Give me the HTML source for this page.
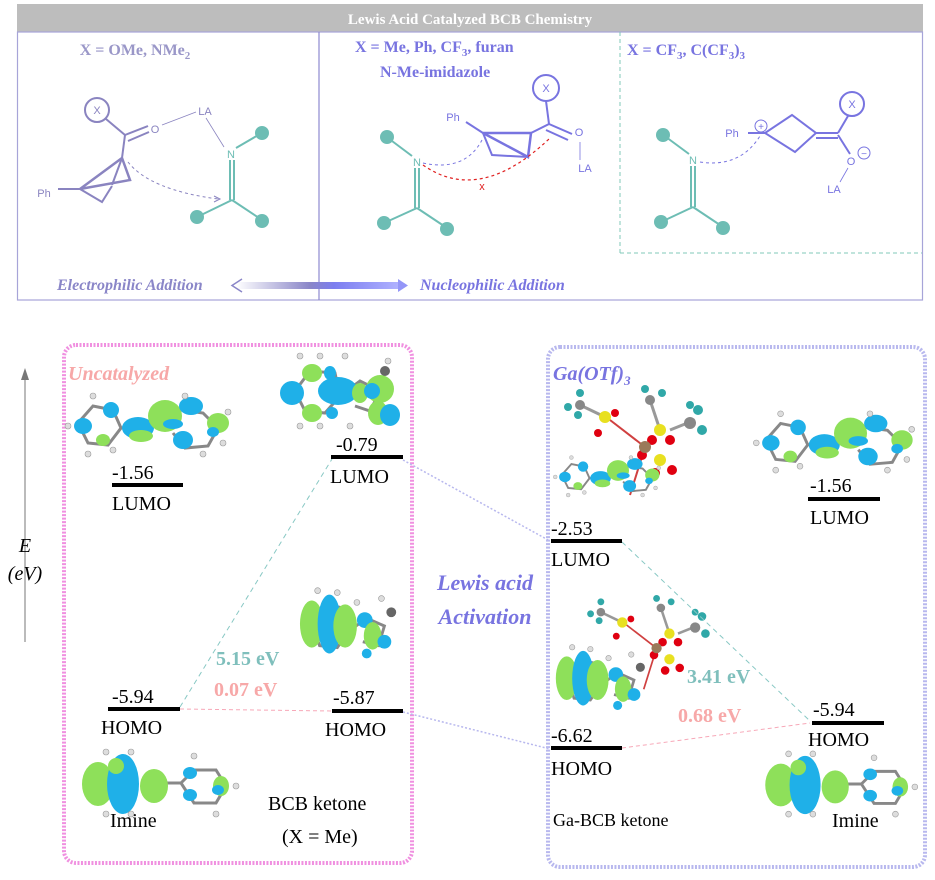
<!DOCTYPE html>
<html><head><meta charset="utf-8"><style>
html,body{margin:0;padding:0;background:#fff;}
svg{display:block;}
.s{font-family:"Liberation Serif",serif;}
.a{font-family:"Liberation Sans",sans-serif;}
</style></head><body>
<svg width="935" height="880" viewBox="0 0 935 880" xmlns="http://www.w3.org/2000/svg">
<defs>
<linearGradient id="ag" x1="0" x2="1">
<stop offset="0" stop-color="#fff"/><stop offset="0.45" stop-color="#8a86c8"/><stop offset="0.6" stop-color="#7c7ef0"/><stop offset="1" stop-color="#b0b2ff"/>
</linearGradient>
<symbol id="lumoI" viewBox="0 0 170 70">
<g stroke="#888" stroke-width="3" fill="none"><polyline points="15,35 30,18 50,22 58,40 45,57 25,55 15,35"/><polyline points="58,40 80,38 100,30 118,22 140,25 155,40 145,58 122,60 110,45"/></g>
<ellipse cx="20" cy="38" rx="9" ry="8" fill="#1fb0e8"/><ellipse cx="48" cy="22" rx="8" ry="8" fill="#1fb0e8"/><ellipse cx="40" cy="52" rx="7" ry="6" fill="#8ee05a"/>
<ellipse cx="75" cy="40" rx="16" ry="11" fill="#1fb0e8"/><ellipse cx="78" cy="48" rx="12" ry="6" fill="#8ee05a"/>
<ellipse cx="102" cy="28" rx="17" ry="16" fill="#8ee05a"/><ellipse cx="110" cy="36" rx="10" ry="5" fill="#1fb0e8"/>
<ellipse cx="128" cy="18" rx="12" ry="9" fill="#1fb0e8"/><ellipse cx="155" cy="35" rx="11" ry="10" fill="#8ee05a"/><ellipse cx="150" cy="44" rx="6" ry="5" fill="#1fb0e8"/><ellipse cx="120" cy="52" rx="10" ry="9" fill="#1fb0e8"/>
<g fill="#ddd" stroke="#999" stroke-width="0.6"><circle cx="5" cy="38" r="3"/><circle cx="30" cy="8" r="3"/><circle cx="25" cy="66" r="3"/><circle cx="50" cy="62" r="3"/><circle cx="122" cy="8" r="3"/><circle cx="160" cy="55" r="3"/><circle cx="140" cy="66" r="3"/><circle cx="165" cy="24" r="3"/></g>
</symbol>
<symbol id="homoI" viewBox="0 0 170 70">
<g stroke="#888" stroke-width="3" fill="none"><polyline points="105,35 118,22 140,22 150,38 140,55 118,55 105,35"/><line x1="70" y1="35" x2="105" y2="35"/></g>
<ellipse cx="22" cy="36" rx="16" ry="22" fill="#8ee05a"/><ellipse cx="47" cy="36" rx="16" ry="30" fill="#1fb0e8"/><ellipse cx="40" cy="18" rx="8" ry="8" fill="#8ee05a"/>
<ellipse cx="78" cy="38" rx="14" ry="17" fill="#8ee05a"/><ellipse cx="114" cy="25" rx="7" ry="6" fill="#1fb0e8"/><ellipse cx="114" cy="47" rx="7" ry="6" fill="#1fb0e8"/><ellipse cx="145" cy="38" rx="8" ry="10" fill="#8ee05a"/><ellipse cx="142" cy="42" rx="6" ry="5" fill="#1fb0e8"/>
<g fill="#ddd" stroke="#999" stroke-width="0.6"><circle cx="30" cy="4" r="3"/><circle cx="55" cy="4" r="3"/><circle cx="30" cy="66" r="3"/><circle cx="55" cy="66" r="3"/><circle cx="160" cy="38" r="3"/><circle cx="118" cy="8" r="3"/><circle cx="140" cy="66" r="3"/></g>
</symbol>
<symbol id="bcbH" viewBox="0 0 110 80">
<g stroke="#888" stroke-width="3" fill="none"><polyline points="15,40 28,18 48,22 52,45 40,62 22,60 15,40"/><polyline points="52,45 70,32 88,40 82,60 66,56"/></g>
<ellipse cx="14" cy="38" rx="12" ry="24" fill="#8ee05a"/><ellipse cx="32" cy="38" rx="12" ry="30" fill="#1fb0e8"/><ellipse cx="48" cy="40" rx="12" ry="22" fill="#8ee05a"/>
<ellipse cx="68" cy="34" rx="8" ry="8" fill="#1fb0e8"/><ellipse cx="76" cy="50" rx="9" ry="14" fill="#8ee05a"/><ellipse cx="88" cy="56" rx="7" ry="7" fill="#1fb0e8"/><ellipse cx="70" cy="68" rx="5" ry="5" fill="#1fb0e8"/>
<g fill="#ddd" stroke="#999" stroke-width="0.6"><circle cx="20" cy="4" r="3"/><circle cx="40" cy="6" r="3"/><circle cx="60" cy="16" r="3"/><circle cx="85" cy="12" r="3"/></g>
<circle cx="95" cy="26" r="5" fill="#666"/>
</symbol>
<symbol id="bcbL" viewBox="0 0 130 80">
<g stroke="#888" stroke-width="3" fill="none"><polyline points="15,40 30,20 55,22 60,45 45,62 25,60 15,40"/><polyline points="60,45 80,30 100,40 90,60 75,55"/></g>
<ellipse cx="12" cy="42" rx="12" ry="12" fill="#1fb0e8"/><ellipse cx="32" cy="22" rx="10" ry="9" fill="#8ee05a"/><ellipse cx="32" cy="62" rx="10" ry="9" fill="#8ee05a"/>
<ellipse cx="58" cy="40" rx="20" ry="14" fill="#1fb0e8"/><ellipse cx="50" cy="22" rx="6" ry="7" fill="#1fb0e8"/><ellipse cx="52" cy="62" rx="6" ry="6" fill="#1fb0e8"/>
<ellipse cx="80" cy="42" rx="8" ry="10" fill="#8ee05a"/><ellipse cx="100" cy="38" rx="14" ry="14" fill="#8ee05a"/><ellipse cx="92" cy="40" rx="8" ry="8" fill="#1fb0e8"/>
<ellipse cx="98" cy="62" rx="10" ry="12" fill="#8ee05a"/><ellipse cx="110" cy="64" rx="10" ry="11" fill="#1fb0e8"/>
<g fill="#ddd" stroke="#999" stroke-width="0.6"><circle cx="20" cy="5" r="3"/><circle cx="40" cy="5" r="3"/><circle cx="65" cy="5" r="3"/><circle cx="108" cy="10" r="3"/><circle cx="20" cy="75" r="3"/><circle cx="40" cy="75" r="3"/><circle cx="70" cy="75" r="3"/></g>
<circle cx="105" cy="20" r="5" fill="#666"/>
</symbol>
<symbol id="tf" viewBox="0 0 150 140">
<g stroke="#d04040" stroke-width="2"><line x1="50" y1="35" x2="85" y2="62"/><line x1="85" y1="62" x2="70" y2="110"/></g>
<g stroke="#999" stroke-width="3"><line x1="20" y1="20" x2="45" y2="32"/><line x1="110" y1="45" x2="135" y2="35"/><line x1="90" y1="15" x2="100" y2="45"/></g>
<g fill="#e8e020"><circle cx="45" cy="32" r="6"/><circle cx="100" cy="45" r="6"/><circle cx="100" cy="75" r="6"/></g>
<g fill="#e00010"><circle cx="55" cy="28" r="4"/><circle cx="38" cy="48" r="4"/><circle cx="92" cy="55" r="5"/><circle cx="110" cy="55" r="5"/><circle cx="95" cy="88" r="5"/><circle cx="112" cy="85" r="5"/><circle cx="82" cy="70" r="5"/></g>
<circle cx="85" cy="62" r="6" fill="#9a7a5a"/>
<g fill="#30a8a8"><circle cx="20" cy="8" r="4"/><circle cx="8" cy="22" r="4"/><circle cx="18" cy="30" r="4"/><circle cx="85" cy="4" r="4"/><circle cx="102" cy="8" r="4"/><circle cx="138" cy="25" r="5"/><circle cx="142" cy="45" r="5"/><circle cx="130" cy="20" r="4"/></g>
<circle cx="20" cy="20" r="5" fill="#888"/><circle cx="90" cy="15" r="5" fill="#888"/><circle cx="130" cy="38" r="6" fill="#888"/>
</symbol>
</defs>

<!-- Top panel -->
<rect x="17" y="4" width="906" height="28" fill="#bdbdbd"/>
<text x="470" y="24" class="s" font-size="15" font-weight="bold" fill="#fff" text-anchor="middle">Lewis Acid Catalyzed BCB Chemistry</text>
<rect x="17.5" y="32" width="905" height="268" fill="none" stroke="#a7a4d8" stroke-width="1.2"/>
<line x1="319" y1="32" x2="319" y2="300" stroke="#8e8ad0" stroke-width="1.2"/>
<line x1="620" y1="32" x2="620" y2="253" stroke="#80c8b8" stroke-width="1" stroke-dasharray="4,3"/>
<line x1="620" y1="253" x2="922" y2="253" stroke="#80c8b8" stroke-width="1" stroke-dasharray="4,3"/>

<text x="135" y="55" class="s" font-size="16" font-weight="bold" fill="#9a97c8" text-anchor="middle">X = OMe, NMe<tspan font-size="11" dy="4">2</tspan></text>
<text x="355" y="52" class="s" font-size="16" font-weight="bold" fill="#7874e0">X = Me, Ph, CF<tspan font-size="11" dy="4">3</tspan><tspan dy="-4">, furan</tspan></text>
<text x="380" y="77" class="s" font-size="16" font-weight="bold" fill="#7874e0">N-Me-imidazole</text>
<text x="627" y="55" class="s" font-size="16" font-weight="bold" fill="#7874e0">X = CF<tspan font-size="11" dy="4">3</tspan><tspan dy="-4">, C(CF</tspan><tspan font-size="11" dy="4">3</tspan><tspan dy="-4">)</tspan><tspan font-size="11" dy="4">3</tspan></text>

<!-- left scheme -->
<g stroke="#8a84c0" stroke-width="2" fill="none">
<circle cx="97" cy="110" r="12"/>
<line x1="106" y1="119" x2="125" y2="135"/>
<line x1="125" y1="135" x2="122" y2="158"/>
<line x1="125" y1="135" x2="148" y2="126"/><line x1="128" y1="141" x2="149" y2="132"/>
<polygon points="122,158 80,189 130,180" stroke-width="2.5"/>
<line x1="122" y1="158" x2="112" y2="185"/>
<polyline points="80,189 102,202 112,186"/>
<line x1="58" y1="189" x2="80" y2="189"/>
</g>
<text x="97" y="114" class="a" font-size="11" fill="#8a84c0" text-anchor="middle">X</text>
<text x="44" y="197" class="a" font-size="11" fill="#8a84c0" text-anchor="middle">Ph</text>
<text x="155" y="133" class="a" font-size="11" fill="#8a84c0" text-anchor="middle">O</text>
<text x="205" y="115" class="a" font-size="11" fill="#8a84c0" text-anchor="middle">LA</text>
<line x1="162" y1="125" x2="196" y2="112" stroke="#8a84c0" stroke-width="0.8"/>
<line x1="206" y1="118" x2="224" y2="147" stroke="#8a84c0" stroke-width="0.8"/>
<path d="M128,162 Q150,190 218,199" fill="none" stroke="#8a84c0" stroke-width="1" stroke-dasharray="3,3"/>
<path d="M214,196 L220,199 L214,202" fill="none" stroke="#8a84c0" stroke-width="1"/>
<g stroke="#6dbdb4" stroke-width="2"><line x1="230" y1="160" x2="230" y2="200"/><line x1="234" y1="160" x2="234" y2="200"/><line x1="232" y1="200" x2="197" y2="217"/><line x1="232" y1="200" x2="262" y2="220"/><line x1="236" y1="148" x2="260" y2="134"/></g>
<text x="231" y="158" class="a" font-size="11" fill="#6dbdb4" text-anchor="middle">N</text>
<g fill="#6dbdb4"><circle cx="262" cy="133" r="7"/><circle cx="197" cy="217" r="7"/><circle cx="262" cy="221" r="7"/></g>

<!-- middle scheme -->
<g stroke="#7874e0" stroke-width="2" fill="none">
<circle cx="546" cy="88" r="13"/>
<line x1="546" y1="101" x2="549" y2="124"/>
<line x1="549" y1="124" x2="531" y2="133"/>
<line x1="549" y1="124" x2="572" y2="134"/><line x1="546" y1="130" x2="568" y2="140"/>
<polygon points="483,133 531,133 528,157" stroke-width="2.5"/>
<polyline points="483,133 492,155 528,157"/>
<line x1="466" y1="122" x2="483" y2="133"/>
</g>
<text x="546" y="92" class="a" font-size="11" fill="#7874e0" text-anchor="middle">X</text>
<text x="453" y="121" class="a" font-size="11" fill="#7874e0" text-anchor="middle">Ph</text>
<text x="579" y="136" class="a" font-size="11" fill="#7874e0" text-anchor="middle">O</text>
<line x1="580" y1="142" x2="580" y2="160" stroke="#7874e0" stroke-width="0.8"/>
<text x="585" y="172" class="a" font-size="11" fill="#7874e0" text-anchor="middle">LA</text>
<g stroke="#6dbdb4" stroke-width="2"><line x1="415" y1="168" x2="415" y2="208"/><line x1="419" y1="168" x2="419" y2="208"/><line x1="417" y1="208" x2="384" y2="223"/><line x1="417" y1="208" x2="447" y2="228"/><line x1="412" y1="156" x2="388" y2="138"/></g>
<text x="417" y="166" class="a" font-size="11" fill="#6dbdb4" text-anchor="middle">N</text>
<g fill="#6dbdb4"><circle cx="387" cy="137" r="7"/><circle cx="384" cy="223" r="7"/><circle cx="447" cy="229" r="7"/></g>
<path d="M423,163 Q465,172 482,140" fill="none" stroke="#7874e0" stroke-width="1" stroke-dasharray="3,3"/>
<path d="M423,165 Q480,205 550,138" fill="none" stroke="#e02020" stroke-width="1.2" stroke-dasharray="3,3"/>
<text x="482" y="190" class="a" font-size="11" fill="#e02020" text-anchor="middle">x</text>

<!-- right scheme -->
<g stroke="#7874e0" stroke-width="2" fill="none">
<polygon points="765,133 792,115 816,133 795,152"/>
<line x1="816" y1="133" x2="838" y2="133"/><line x1="816" y1="138" x2="838" y2="138"/>
<line x1="838" y1="133" x2="848" y2="116"/>
<circle cx="852" cy="104" r="12"/>
<line x1="838" y1="135" x2="850" y2="154"/>
<line x1="748" y1="133" x2="765" y2="133"/>
</g>
<text x="852" y="108" class="a" font-size="11" fill="#7874e0" text-anchor="middle">X</text>
<text x="732" y="137" class="a" font-size="11" fill="#7874e0" text-anchor="middle">Ph</text>
<circle cx="761" cy="126" r="6" fill="#fff" stroke="#7874e0" stroke-width="1"/><text x="761" y="130" class="a" font-size="10" fill="#7874e0" text-anchor="middle">+</text>
<text x="851" y="165" class="a" font-size="11" fill="#7874e0" text-anchor="middle">O</text>
<circle cx="864" cy="153" r="6" fill="#fff" stroke="#7874e0" stroke-width="1"/><text x="864" y="157" class="a" font-size="10" fill="#7874e0" text-anchor="middle">−</text>
<line x1="848" y1="168" x2="840" y2="182" stroke="#7874e0" stroke-width="0.8"/>
<text x="834" y="193" class="a" font-size="11" fill="#7874e0" text-anchor="middle">LA</text>
<g stroke="#6dbdb4" stroke-width="2"><line x1="691" y1="166" x2="691" y2="207"/><line x1="695" y1="166" x2="695" y2="207"/><line x1="693" y1="207" x2="661" y2="222"/><line x1="693" y1="207" x2="723" y2="227"/><line x1="689" y1="154" x2="666" y2="137"/></g>
<text x="693" y="164" class="a" font-size="11" fill="#6dbdb4" text-anchor="middle">N</text>
<g fill="#6dbdb4"><circle cx="663" cy="135" r="7"/><circle cx="661" cy="222" r="7"/><circle cx="723" cy="228" r="7"/></g>
<path d="M700,162 Q740,168 760,136" fill="none" stroke="#7874e0" stroke-width="1" stroke-dasharray="3,3"/>

<!-- bottom arrow -->
<text x="57" y="290" class="s" font-size="16" font-weight="bold" font-style="italic" fill="#8a86c8">Electrophilic Addition</text>
<rect x="236" y="282" width="164" height="7" fill="url(#ag)"/>
<path d="M242,279 L232,285.5 L242,292" fill="none" stroke="#8a86c8" stroke-width="1.5"/>
<path d="M398,279 L408,285.5 L398,292 Z" fill="#9496f8"/>
<text x="420" y="290" class="s" font-size="16" font-weight="bold" font-style="italic" fill="#7874e0">Nucleophilic Addition</text>

<!-- boxes -->
<rect x="64" y="345" width="348" height="518" rx="12" fill="none" stroke="#f090e0" stroke-width="4" stroke-dasharray="2,1.5"/>
<rect x="548" y="347" width="377" height="520" rx="12" fill="none" stroke="#b8b8ee" stroke-width="4" stroke-dasharray="2,1.5"/>

<!-- axis -->
<line x1="25" y1="642" x2="25" y2="378" stroke="#777" stroke-width="1"/>
<path d="M21,380 L25,368 L29,380 Z" fill="#777"/>
<text x="25" y="552" class="s" font-size="20" font-style="italic" text-anchor="middle">E</text>
<text x="25" y="580" class="s" font-size="20" font-style="italic" text-anchor="middle">(eV)</text>

<text x="68" y="380" class="s" font-size="20" font-weight="bold" font-style="italic" fill="#f7a8a8">Uncatalyzed</text>
<text x="553" y="380" class="s" font-size="20" font-weight="bold" font-style="italic" fill="#7874e0">Ga(OTf)<tspan font-size="13" dy="5">3</tspan></text>
<text x="485" y="590" class="s" font-size="22" font-weight="bold" font-style="italic" fill="#7874e0" text-anchor="middle">Lewis acid</text>
<text x="485" y="624" class="s" font-size="22" font-weight="bold" font-style="italic" fill="#7874e0" text-anchor="middle">Activation</text>

<!-- molecules -->
<use href="#lumoI" x="63" y="388" width="170" height="70"/>
<use href="#lumoI" x="750" y="406" width="168" height="68"/>
<use href="#bcbL" x="280" y="350" width="130" height="82"/>
<use href="#homoI" x="75" y="748" width="172" height="70"/>
<use href="#homoI" x="758" y="750" width="168" height="68"/>
<use href="#bcbH" x="298" y="586" width="108" height="80"/>
<use href="#tf" x="560" y="385" width="150" height="140"/>
<use href="#lumoI" x="552" y="445" width="110" height="60"/>
<use href="#tf" x="578" y="595" width="140" height="120"/>
<use href="#bcbH" x="554" y="640" width="100" height="80"/>

<!-- connectors -->
<line x1="403" y1="460" x2="550" y2="541" stroke="#b8b8ee" stroke-width="1.5" stroke-dasharray="2,2"/>
<line x1="403" y1="712" x2="550" y2="749" stroke="#b8b8ee" stroke-width="1.5" stroke-dasharray="2,2"/>
<line x1="180" y1="707" x2="332" y2="459" stroke="#88c8c4" stroke-width="1" stroke-dasharray="5,4"/>
<line x1="622" y1="542" x2="810" y2="721" stroke="#88c8c4" stroke-width="1" stroke-dasharray="5,4"/>
<line x1="180" y1="709" x2="332" y2="711" stroke="#f7a8b8" stroke-width="1" stroke-dasharray="4,3"/>
<line x1="622" y1="748" x2="810" y2="723" stroke="#f7a8b8" stroke-width="1" stroke-dasharray="4,3"/>

<!-- levels -->
<g fill="#000">
<rect x="112" y="483" width="71" height="4"/>
<rect x="331" y="455" width="72" height="4"/>
<rect x="108" y="707" width="72" height="4"/>
<rect x="332" y="709" width="71" height="4"/>
<rect x="551" y="539" width="71" height="4"/>
<rect x="551" y="746" width="71" height="4"/>
<rect x="808" y="497" width="72" height="4"/>
<rect x="812" y="721" width="72" height="4"/>
</g>
<g class="s" font-size="20" fill="#000">
<text x="112" y="479">-1.56</text><text x="112" y="510">LUMO</text>
<text x="336" y="451">-0.79</text><text x="330" y="483">LUMO</text>
<text x="112" y="703">-5.94</text><text x="101" y="734">HOMO</text>
<text x="333" y="704">-5.87</text><text x="325" y="736">HOMO</text>
<text x="551" y="535">-2.53</text><text x="551" y="566">LUMO</text>
<text x="551" y="742">-6.62</text><text x="551" y="775">HOMO</text>
<text x="810" y="492">-1.56</text><text x="810" y="524">LUMO</text>
<text x="813" y="716">-5.94</text><text x="808" y="746">HOMO</text>
<text x="110" y="827">Imine</text>
<text x="268" y="810">BCB ketone</text>
<text x="282" y="843">(X = Me)</text>
<text x="553" y="826" font-size="18">Ga-BCB ketone</text>
<text x="832" y="827">Imine</text>
</g>
<g class="s" font-size="20" font-weight="bold">
<text x="216" y="665" fill="#7fbfbc">5.15 eV</text>
<text x="214" y="696" fill="#f7a8a8">0.07 eV</text>
<text x="687" y="683" fill="#7fbfbc">3.41 eV</text>
<text x="678" y="722" fill="#f7a8a8">0.68 eV</text>
</g>
</svg>
</body></html>
